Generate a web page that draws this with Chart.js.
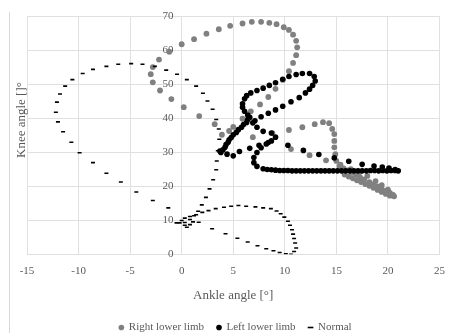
<!DOCTYPE html>
<html><head><meta charset="utf-8">
<script src="https://cdn.jsdelivr.net/npm/chart.js@4/dist/chart.umd.min.js"></script>
<style>html,body{margin:0;padding:0;background:#fff;}canvas{display:block;}</style>
</head><body><canvas id="c" width="455" height="333"></canvas>
<script>
const seriesNames = ['Right lower limb', 'Left lower limb', 'Normal'];
const xTitle = 'Ankle angle [°]';
const yTitle = 'Knee angle []°';

const rightX = [-1.2,-2.2,-2.8,-3.0,-2.8,-2.1,-1.0,0.2,1.7,3.2,3.9,4.6,
  0.0,1.2,2.4,3.6,4.7,5.9,6.8,7.7,8.5,9.2,9.9,10.4,10.8,11.1,11.2,11.1,10.8,10.4,9.8,
  9.1,8.4,7.6,6.7,5.9,5.0,
  6.9,8.8,10.4,11.7,12.9,13.7,14.3,14.6,14.8,14.8,14.8,14.9,15.0,
  10.6,12.4,14.0,15.4,16.4,17.2,18.0,18.8,19.4,20.0,
  15.3,15.7,16.1,16.5,16.9,17.3,17.7,18.2,18.6,19.0,19.4,19.8,20.2,20.5,
  20.6,20.2,19.8,19.4,19.0,18.6,18.2,17.8,17.4,17.0,16.6,16.2,15.8];
const rightY = [59.5,57.2,55.0,52.9,50.5,48.1,45.6,43.2,40.6,38.2,35.1,36.2,
  61.7,63.2,64.8,66.1,67.1,67.8,68.3,68.3,68.0,67.6,66.7,65.9,64.5,62.7,60.8,58.5,56.2,53.8,51.2,
  48.6,46.2,44.0,42.0,39.8,37.4,
  34.4,35.6,36.5,37.3,38.2,38.8,38.5,36.8,35.3,33.3,31.4,29.4,27.4,
  30.9,29.1,27.6,26.3,25.0,24.0,23.0,21.5,20.3,19.0,
  25.9,25.2,24.6,23.9,23.3,22.6,22.0,21.2,20.5,19.9,19.2,18.6,18.0,17.4,
  17.0,17.2,17.7,18.3,18.9,19.5,20.1,20.6,21.2,21.7,22.3,22.8,23.4];

const leftX = [5.9,6.1,6.3,6.7,7.3,7.9,8.5,9.1,9.8,10.4,11.1,11.7,12.4,12.85,12.95,12.7,12.4,12.0,
  11.4,10.6,9.8,9.1,8.4,7.7,7.1,
  5.9,6.1,6.4,
  6.6,6.3,5.8,5.3,4.8,4.5,4.2,3.8,6.4,6.0,5.5,5.0,4.6,4.3,4.0,3.7,
  6.9,7.3,7.9,
  8.7,9.1,8.7,8.2,7.7,7.3,7.0,7.0,7.3,7.9,
  4.4,5.0,5.6,6.6,7.5,8.4,
  10.3,11.8,13.3,14.8,16.2,17.5,18.65,19.45,20.1,20.7,
  8.3,8.7,9.1,9.5,9.9,10.3,10.7,11.1,11.5,11.9,12.3,12.7,13.1,13.5,13.9,14.3,14.7,15.1,15.5,15.9,
  16.3,16.7,17.1,17.5,17.9,18.3,18.7,19.1,19.5,19.9,20.3,20.7,21.0];
const leftY = [44.2,45.7,46.6,47.4,48.1,48.8,49.6,50.4,51.4,52.2,52.8,53.1,53.1,52.2,50.9,49.6,48.5,47.4,
  46.0,44.8,43.5,42.4,41.4,40.4,39.2,
  43.2,42.0,40.9,
  40.2,38.7,37.3,35.8,34.3,32.9,31.4,29.9,39.6,38.1,36.6,35.1,33.6,32.2,30.7,30.3,
  38.6,37.3,36.1,
  35.6,34.4,33.3,32.4,31.3,29.9,28.4,26.9,25.8,25.1,
  29.4,28.9,30.2,31.1,32.0,32.8,
  32.0,30.5,29.3,28.3,27.3,26.4,25.9,25.6,25.3,24.9,
  24.9,24.8,24.7,24.6,24.6,24.6,24.5,24.5,24.5,24.5,24.5,24.5,24.5,24.5,24.5,24.5,24.5,24.5,24.5,24.5,
  24.5,24.5,24.5,24.5,24.5,24.6,24.6,24.5,24.6,24.5,24.6,24.6,24.5];

const normalX = [3.0,2.5,2.06,1.4,0.5,-0.45,-1.5,-2.6,-3.8,-4.9,-6.15,-7.3,-8.6,-9.6,-10.6,-11.3,-11.8,-12.1,-12.2,-12.0,-11.5,-10.7,-9.9,-8.6,-7.3,-5.9,-4.4,-2.8,-1.3,
  3.35,3.6,3.65,3.5,3.4,3.35,3.05,2.7,2.35,1.95,1.6,
  1.2,0.8,0.3,-0.2,-0.5,0.0,0.3,0.5,0.8,1.1,1.65,
  2.95,4.25,5.4,6.4,7.35,8.2,8.9,9.5,10.1,10.6,10.9,11.1,11.0,10.9,10.8,10.7,10.5,10.3,9.95,9.6,9.2,8.65,
  7.9,7.15,6.25,5.5,4.8,4.1,3.3,2.6,2.0,1.4,0.8,0.3];
const normalY = [42.6,45.0,47.3,49.4,51.3,52.9,54.1,55.2,55.8,56.0,55.8,55.2,54.3,53.1,51.3,49.4,47.1,44.7,41.7,38.9,36.0,32.9,29.8,26.9,23.8,21.2,18.3,15.8,13.6,
  39.6,36.8,33.8,30.4,27.4,24.8,21.9,19.2,16.7,14.5,12.6,
  11.3,10.2,9.3,9.2,9.2,9.9,8.5,7.9,8.7,9.5,9.4,
  7.5,6.0,4.7,3.6,2.5,1.6,1.0,0.5,0.1,0.0,0.8,1.8,3.3,4.6,5.9,7.2,8.5,9.7,10.9,11.9,12.7,13.4,
  13.6,13.9,14.1,14.3,14.1,13.8,13.4,12.8,12.3,11.6,11.1,10.6];

const toPoints = (xs, ys) => xs.map((x, i) => ({ x: x, y: ys[i] }));
const FONT = '"Liberation Serif", "Times New Roman", serif';
const TEXT = '#595959';
const GRID = '#e0e0e0';

const extras = {
  id: 'extras',
  afterDraw(chart) {
    const c = chart.ctx;
    c.save();
    c.strokeStyle = '#d9d9d9';
    c.lineWidth = 1;
    c.beginPath(); c.moveTo(9.5, 12); c.lineTo(9.5, 333); c.stroke();
    c.translate(22, 120);
    c.rotate(-Math.PI / 2);
    c.fillStyle = TEXT;
    c.font = '13px ' + FONT;
    c.textAlign = 'center';
    c.textBaseline = 'middle';
    c.fillText(yTitle, 0, 0);
    c.restore();
  }
};

new Chart(document.getElementById('c'), {
  type: 'scatter',
  data: {
    datasets: [
      { label: seriesNames[0], data: toPoints(rightX, rightY), backgroundColor: '#808080', borderColor: '#808080', borderWidth: 0, pointRadius: 2.9, pointStyle: 'circle', order: 3 },
      { label: seriesNames[1], data: toPoints(leftX, leftY), backgroundColor: '#000', borderColor: '#000', borderWidth: 0, pointRadius: 2.8, pointStyle: 'circle', order: 2 },
      { label: seriesNames[2], data: toPoints(normalX, normalY), backgroundColor: '#000', borderColor: '#000', borderWidth: 1.6, pointRadius: 2, pointStyle: 'line', order: 1 }
    ]
  },
  options: {
    responsive: false, animation: false, devicePixelRatio: 1,
    layout: { padding: { left: 27, right: 11, top: 16, bottom: -10 } },
    plugins: {
      tooltip: { enabled: false },
      legend: {
        position: 'bottom',
        labels: {
          usePointStyle: true, boxWidth: 4, boxHeight: 4, padding: 13,
          color: TEXT, font: { family: FONT, size: 11 },
          sort: (a, b) => a.datasetIndex - b.datasetIndex
        }
      }
    },
    scales: {
      x: {
        type: 'linear', min: -15, max: 25,
        ticks: { stepSize: 5, color: TEXT, font: { family: FONT, size: 11 }, padding: 10 },
        grid: { color: GRID, drawTicks: false },
        border: { color: GRID },
        title: { display: true, text: xTitle, color: TEXT, font: { family: FONT, size: 13 }, padding: { top: 0, bottom: 6 } }
      },
      y: {
        type: 'linear', min: 0, max: 70, position: { x: 0 },
        ticks: { stepSize: 10, color: TEXT, font: { family: FONT, size: 11 }, callback: (v) => v + '   ' },
        grid: { color: GRID, drawTicks: false },
        border: { color: GRID }
      }
    }
  },
  plugins: [extras]
});
</script>
</body></html>
